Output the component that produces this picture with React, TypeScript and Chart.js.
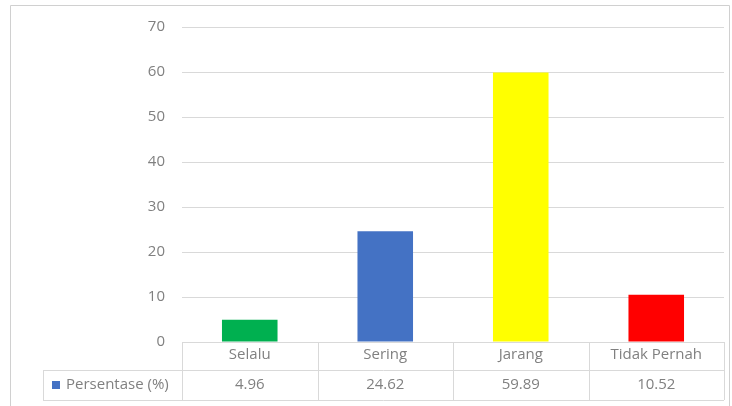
import React, { useEffect, useRef } from "react";
import { Chart, registerables } from "chart.js";

Chart.register(...registerables);

const categories = ["Selalu", "Sering", "Jarang", "Tidak Pernah"];
const values = [4.96, 24.62, 59.89, 10.52];
const valueLabels = ["4.96", "24.62", "59.89", "10.52"];
const barColors = ["#00b050", "#4472c4", "#ffff00", "#ff0000"];
const seriesName = "Persentase (%)";
const yMax = 70;
const yStep = 10;

const FONT = "'Open Sans', 'Liberation Sans', sans-serif";
const TEXT = "#808080";
const LINE = "#d9d9d9";

const tablePlugin = {
  id: "dataTable",
  afterDraw(chart: any) {
    const ctx = chart.ctx;
    const x = chart.scales.x;
    const area = chart.chartArea;
    const left = area.left;
    const right = area.right;
    const n = categories.length;
    const colW = (right - left) / n;
    const top = area.bottom;
    const rowH = 28;
    const mid = top + rowH;
    const bottom = mid + 30;
    const labelLeft = 43;
    ctx.save();
    // frame
    ctx.strokeStyle = "#d0d0d0";
    ctx.lineWidth = 1;
    ctx.beginPath();
    ctx.moveTo(10.5, 420);
    ctx.lineTo(10.5, 5.5);
    ctx.lineTo(729.5, 5.5);
    ctx.lineTo(729.5, 420);
    ctx.stroke();

    ctx.strokeStyle = LINE;
    ctx.beginPath();
    ctx.moveTo(left, Math.round(top) + 0.5);
    ctx.lineTo(right, Math.round(top) + 0.5);
    ctx.moveTo(labelLeft, Math.round(mid) + 0.5);
    ctx.lineTo(right, Math.round(mid) + 0.5);
    ctx.moveTo(labelLeft, Math.round(bottom) + 0.5);
    ctx.lineTo(right, Math.round(bottom) + 0.5);
    for (let i = 0; i <= n; i++) {
      const xx = Math.round(left + i * colW) + 0.5;
      ctx.moveTo(xx, top);
      ctx.lineTo(xx, bottom);
    }
    ctx.moveTo(labelLeft + 0.5, mid);
    ctx.lineTo(labelLeft + 0.5, bottom);
    ctx.stroke();

    ctx.fillStyle = TEXT;
    ctx.font = `15px ${FONT}`;
    ctx.textAlign = "center";
    ctx.textBaseline = "middle";
    for (let i = 0; i < n; i++) {
      const cx = x.getPixelForValue(i);
      ctx.fillText(categories[i], cx, top + 13);
      ctx.fillText(valueLabels[i], cx, mid + 15);
    }
    ctx.fillStyle = "#4472c4";
    ctx.fillRect(52, mid + 11, 8, 8);
    ctx.fillStyle = TEXT;
    ctx.textAlign = "left";
    ctx.fillText(seriesName, 66, mid + 15);
    ctx.restore();
  },
};

export default function App() {
  const ref = useRef<HTMLCanvasElement | null>(null);
  useEffect(() => {
    if (!ref.current) return;
    const chart = new Chart(ref.current, {
      type: "bar",
      data: {
        labels: categories,
        datasets: [
          {
            label: seriesName,
            data: values,
            backgroundColor: barColors,
            categoryPercentage: 0.41,
            barPercentage: 1,
          },
        ],
      },
      options: {
        animation: false,
        responsive: false,
        maintainAspectRatio: false,
        layout: { padding: { left: 122, right: 8, top: 27, bottom: 64 } },
        plugins: { legend: { display: false }, tooltip: { enabled: false } },
        scales: {
          x: { display: false },
          y: {
            min: 0,
            max: yMax,
            afterFit: (s: any) => {
              s.width = 60;
            },
            ticks: {
              stepSize: yStep,
              padding: 17,
              color: TEXT,
              font: { family: FONT, size: 15 },
            },
            grid: { color: LINE, drawTicks: false },
            border: { display: false },
          },
        },
      },
      plugins: [tablePlugin],
    });
    return () => chart.destroy();
  }, []);
  return (
    <div style={{ position: "absolute", left: 0, top: 0, width: 732, height: 406, background: "#fff" }}>
      <canvas ref={ref} width={732} height={406} style={{ display: "block" }} />
    </div>
  );
}
